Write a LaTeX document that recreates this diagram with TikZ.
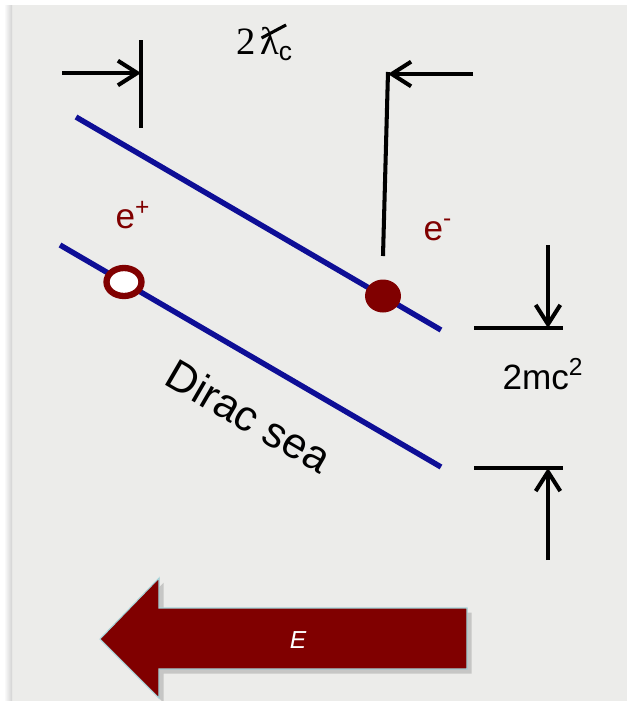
\documentclass[tikz,border=0pt]{standalone}
\usepackage{fontspec}
\setmainfont{Liberation Sans}
\newfontfamily\timesfont{Liberation Serif}
\usepackage{tikz}
\usetikzlibrary{arrows.meta, shapes.geometric, shadows}
\definecolor{seablue}{RGB}{14, 14, 150}
\definecolor{pairred}{RGB}{128, 0, 0}
\definecolor{paper}{RGB}{236, 236, 234}
\definecolor{rimcyan}{RGB}{165, 212, 218}

% reduced Compton wavelength, lambda with a slanted bar
\newcommand{\lbarsym}{\makebox[0pt][l]{\hspace{0.02em}\raisebox{0.38em}{\rotatebox{28}{\rule{0.72em}{0.08em}}}}λ}

\begin{document}
\begin{tikzpicture}[
  x = 0.02cm, y = -0.02cm,
  level/.style    = {line width=3.1pt, color=seablue},
  rule/.style     = {line width=2.3pt, color=black},
  dimarrow/.style = {rule, -{Straight Barb[length=11pt, width=14pt]}},
  label/.style    = {font=\fontsize{20}{24}\selectfont, inner sep=0pt},
  particle/.style = {ellipse, inner sep=0pt, color=pairred}
]
\useasboundingbox (0,0) rectangle (627,701);
\fill[paper] (12,5) rectangle (627,701);
\shade[left color=white, right color=gray!35] (4,5) rectangle (12,701);

% energy levels
\coordinate (upA) at (76,117);
\coordinate (upB) at (441,330);
\coordinate (loA) at (60,245);
\coordinate (loB) at (441,467);
\draw[level] (upA) -- (upB);
\draw[level] (loA) -- (loB);

% particle and hole
\node[particle, fill=pairred, minimum width=0.72cm, minimum height=0.66cm] (elec) at (383,296) {};
\node[particle, draw=pairred, fill=white, line width=3.6pt,
      minimum width=0.7cm, minimum height=0.56cm] (hole) at (124,282) {};
\node[label, text=pairred] (elab) at (438,230) {e\textsuperscript{-}};
\node[label, text=pairred] (plab) at (133,215) {e\textsuperscript{+}};
\node[label, rotate=-30.2, font=\fontsize{24.5}{28}\selectfont] (sea) at (249,416) {Dirac sea};

% width 2 lambda_c
\coordinate (tickLt) at (141,40);
\coordinate (tickLb) at (141,128);
\coordinate (tickRt) at (388,72);
\coordinate (tickRb) at (383,256);
\coordinate (arrL) at (62,73);
\coordinate (hitL) at (141,73);
\coordinate (arrR) at (473,74);
\coordinate (hitR) at (388,74);
\draw[rule] (tickLt) -- (tickLb);
\draw[rule] (tickRt) -- (tickRb);
\draw[dimarrow] (arrL) -- (hitL);
\draw[dimarrow] (arrR) -- (hitR);
\node[inner sep=0pt] (width) at (264,42)
  {{\timesfont\fontsize{22}{24}\selectfont 2\hspace{0.12em}\lbarsym}\raisebox{-0.35em}{\fontsize{15}{16}\selectfont c}};

% gap 2mc^2
\coordinate (gapTl) at (474,328);
\coordinate (gapTr) at (563,328);
\coordinate (gapBl) at (474,468);
\coordinate (gapBr) at (563,468);
\coordinate (arrT) at (548,245);
\coordinate (hitT) at (548,328);
\coordinate (arrB) at (548,560);
\coordinate (hitB) at (548,468);
\draw[rule] (gapTl) -- (gapTr);
\draw[rule] (gapBl) -- (gapBr);
\draw[dimarrow] (arrT) -- (hitT);
\draw[dimarrow] (arrB) -- (hitB);
\node[label] (gap) at (543,374) {2mc\textsuperscript{2}};

% field arrow
\fill[pairred, draw=rimcyan, line width=0.6pt, drop shadow={opacity=0.35}]
  (100,639) -- (159,578) -- (159,608) -- (467,608) -- (467,669)
  -- (159,669) -- (159,698) -- cycle;
\node[text=white, font=\fontsize{14}{16}\selectfont\itshape] (field) at (298,640) {E};
\end{tikzpicture}
\end{document}
